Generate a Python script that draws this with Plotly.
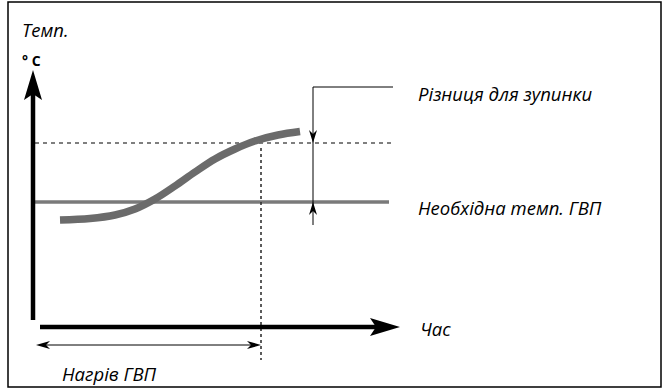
import plotly.graph_objects as go

# ---- data (diagram units: x = time position, y = temperature position, screen-like) ----
curve_time = [60, 90, 115, 135, 155, 175, 195, 215, 235, 255, 278, 300]
curve_temp = [220, 218.5, 215, 209, 199, 186, 172, 159, 149, 141, 135, 131.5]

setpoint_temp = 202          # required DHW temperature
stop_temp = 143              # setpoint + stop difference
heat_end_time = 261          # end of DHW heating
axis_origin = (33, 327)
axis_time_end = 400
axis_temp_end = 70

labels = {
    "temp": "Темп.",
    "unit": "° C",
    "time": "Час",
    "diff": "Різниця для зупинки",
    "req": "Необхідна темп. ГВП",
    "heat": "Нагрів ГВП",
}

W, H = 663, 389
fig = go.Figure()

GRAY = "#6b6b6b"
FONT = "Open Sans"

# setpoint line
fig.add_trace(go.Scatter(x=[35, 389], y=[setpoint_temp, setpoint_temp], mode="lines",
                         line=dict(color="#7a7a7a", width=3.5), hoverinfo="skip"))
# dashed stop line
fig.add_trace(go.Scatter(x=[35, 393], y=[stop_temp, stop_temp], mode="lines",
                         line=dict(color="black", width=1.2, dash="4px,4px"), hoverinfo="skip"))
# dotted vertical end-of-heating line
fig.add_trace(go.Scatter(x=[heat_end_time, heat_end_time], y=[148, 360], mode="lines",
                         line=dict(color="#333", width=1.6, dash="3px,3px"), hoverinfo="skip"))
# temperature curve
fig.add_trace(go.Scatter(x=curve_time, y=curve_temp, mode="lines",
                         line=dict(color=GRAY, width=7.5, shape="spline", smoothing=1.0),
                         hoverinfo="skip"))

shapes = []
# frame
shapes.append(dict(type="rect", x0=8, y0=2, x1=661, y1=387, xref="x", yref="y",
                   line=dict(color="black", width=1.5)))
ox, oy = axis_origin
# vertical axis
shapes.append(dict(type="line", x0=ox, y0=320, x1=ox, y1=axis_temp_end + 20, xref="x", yref="y",
                   line=dict(color="black", width=4.5)))
t = axis_temp_end
shapes.append(dict(type="path", xref="x", yref="y", fillcolor="black", line=dict(width=0),
                   path=f"M {ox},{t} L {ox+9},{t+30} L {ox},{t+24} L {ox-9},{t+30} Z"))
# horizontal axis
shapes.append(dict(type="line", x0=40, y0=oy, x1=axis_time_end - 20, y1=oy, xref="x", yref="y",
                   line=dict(color="black", width=4.5)))
e = axis_time_end
shapes.append(dict(type="path", xref="x", yref="y", fillcolor="black", line=dict(width=0),
                   path=f"M {e},{oy} L {e-30},{oy-9} L {e-24},{oy} L {e-30},{oy+9} Z"))
# difference bracket
bx = 313
shapes.append(dict(type="line", x0=bx, y0=87, x1=393, y1=87, xref="x", yref="y",
                   line=dict(color="black", width=1)))
shapes.append(dict(type="line", x0=bx, y0=87, x1=bx, y1=225, xref="x", yref="y",
                   line=dict(color="black", width=1)))
shapes.append(dict(type="path", xref="x", yref="y", fillcolor="black", line=dict(width=0),
                   path=f"M {bx},{stop_temp} L {bx-4},{stop_temp-13} L {bx},{stop_temp-9} L {bx+4},{stop_temp-13} Z"))
shapes.append(dict(type="path", xref="x", yref="y", fillcolor="black", line=dict(width=0),
                   path=f"M {bx},{setpoint_temp} L {bx-4},{setpoint_temp+13} L {bx},{setpoint_temp+9} L {bx+4},{setpoint_temp+13} Z"))
# heating duration double arrow
hy = 345
shapes.append(dict(type="line", x0=40, y0=hy, x1=heat_end_time - 4, y1=hy, xref="x", yref="y",
                   line=dict(color="black", width=1)))
shapes.append(dict(type="path", xref="x", yref="y", fillcolor="black", line=dict(width=0),
                   path=f"M 36,{hy} L 50,{hy-4} L 46,{hy} L 50,{hy+4} Z"))
shapes.append(dict(type="path", xref="x", yref="y", fillcolor="black", line=dict(width=0),
                   path=f"M {heat_end_time},{hy} L {heat_end_time-14},{hy-4} L {heat_end_time-10},{hy} L {heat_end_time-14},{hy+4} Z"))

ann = []
def txt(x, y, s, size=18.5, italic=True, bold=False):
    s2 = f"<i>{s}</i>" if italic else s
    if bold:
        s2 = f"<b>{s2}</b>"
    ann.append(dict(x=x, y=y, xref="x", yref="y", text=s2, showarrow=False,
                    xanchor="left", yanchor="middle",
                    font=dict(family=FONT, size=size, color="black")))

txt(20, 29, labels["temp"])
txt(20, 60, labels["unit"], size=14, italic=False, bold=True)
txt(416, 93, labels["diff"])
txt(416, 207, labels["req"])
txt(418, 328, labels["time"])
txt(60, 373, labels["heat"])

fig.update_layout(
    width=W, height=H,
    margin=dict(l=0, r=0, t=0, b=0),
    paper_bgcolor="white", plot_bgcolor="white",
    showlegend=False,
    xaxis=dict(range=[0, W], visible=False, fixedrange=True),
    yaxis=dict(range=[H, 0], visible=False, fixedrange=True),
    shapes=shapes, annotations=ann,
)
fig.write_html("out.html", config={"displayModeBar": False},
               post_script="document.body.style.margin='0';document.body.style.overflow='hidden';")
